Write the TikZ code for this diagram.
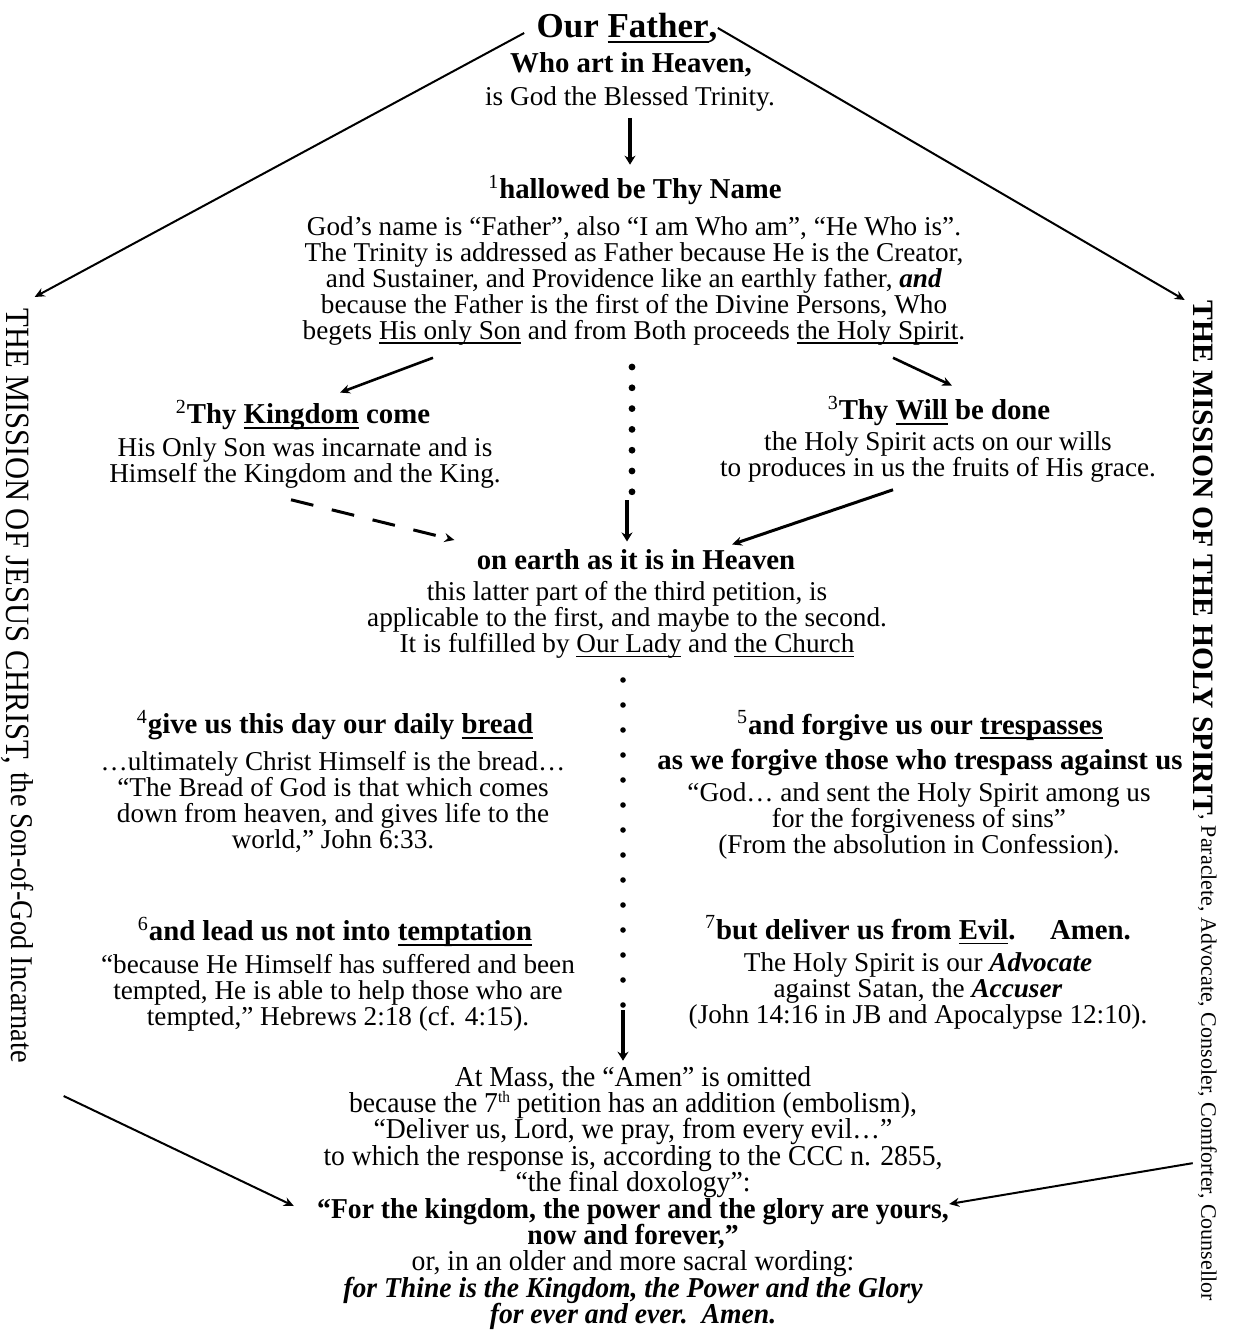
\documentclass[tikz,border=0pt]{standalone}
\usepackage{fontspec}
\setmainfont{Liberation Serif}
\newfontfamily\stretto[FakeStretch=0.9]{Liberation Serif}
\newfontfamily\strettino[FakeStretch=0.96]{Liberation Serif}
\usetikzlibrary{arrows.meta}

\setlength{\lineskiplimit}{-20pt}
\newcommand{\apice}[1]{\textsuperscript{\mdseries #1}}
\newcommand{\sottolinea}[1]{\setbox0\hbox{#1}\rlap{\rule[-0.17em]{\wd0}{0.06em}}\box0\relax}

\begin{document}
\begin{tikzpicture}[x=0.5pt, y=-0.5pt, >={Stealth[length=5pt,width=4.5pt]}]

    % Area del disegno (coordinate in pixel, asse y verso il basso)
    \useasboundingbox (0,0) rectangle (1233,1331);

    % Stili per titoli, petizioni e testi
    \tikzset{
        titolo/.style={font=\fontsize{17.5}{20}\selectfont\bfseries, inner sep=0pt},
        petizione/.style={font=\fontsize{14.4}{17.5}\selectfont\bfseries, inner sep=0pt, align=center},
        testo/.style={font=\fontsize{13.6}{13}\selectfont, inner sep=0pt, align=center},
        freccia/.style={->, line width=1pt},
        frecciona/.style={-{Stealth[length=4.5pt,width=5.5pt]}, line width=2pt},
        laterale/.style={rotate=-90, anchor=west, inner sep=0pt}
    }

    % Intestazione
    \node[titolo] (padre) at (627,28) {Our \sottolinea{Father},};
    \node[petizione] (cielo) at (631,65) {Who art in Heaven,};
    \node[testo] (trinita) at (630,99) {is God the Blessed Trinity.};

    % Prima petizione
    \node[petizione] (nome) at (635,190) {\apice{1}hallowed be Thy Name};
    \node[testo] (nometesto) at (634,281) {God’s name is “Father”, also “I am Who am”, “He Who is”.\\
        The Trinity is addressed as Father because He is the Creator,\\
        and Sustainer, and Providence like an earthly father, \textbf{\textit{and}}\\
        because the Father is the first of the Divine Persons, Who\\
        begets \sottolinea{His only Son} and from Both proceeds \sottolinea{the Holy Spirit}.};

    % Seconda e terza petizione
    \node[petizione] (regno) at (303,415) {\apice{2}Thy \sottolinea{Kingdom} come};
    \node[testo] (regnotesto) at (305,463) {His Only Son was incarnate and is\\
        Himself the Kingdom and the King.};
    \node[petizione] (volonta) at (939,411) {\apice{3}Thy \sottolinea{Will} be done};
    \node[testo] (volontatesto) at (938,457) {the Holy Spirit acts on our wills\\
        to produces in us the fruits of His grace.};

    % Come in cielo cosi in terra
    \node[petizione] (terra) at (636,560) {on earth as it is in Heaven};
    \node[testo] (terratesto) at (627,620) {this latter part of the third petition, is\\
        applicable to the first, and maybe to the second.\\
        It is fulfilled by \sottolinea{Our Lady} and \sottolinea{the Church}};

    % Quarta e quinta petizione
    \node[petizione] (pane) at (335,725) {\apice{4}give us this day our daily \sottolinea{bread}};
    \node[testo] (panetesto) at (333,802) {…ultimately Christ Himself is the bread…\\
        “The Bread of God is that which comes\\
        down from heaven, and gives life to the\\
        world,” John 6:33.};
    \node[petizione] (debiti) at (920,743) {\apice{5}and forgive us our \sottolinea{trespasses}\\
        as we forgive those who trespass against us};
    \node[testo] (debititesto) at (919,821) {“God… and sent the Holy Spirit among us\\
        for the forgiveness of sins”\\
        (From the absolution in Confession).};

    % Sesta e settima petizione
    \node[petizione] (tentazione) at (335,932) {\apice{6}and lead us not into \sottolinea{temptation}};
    \node[testo] (tentazionetesto) at (338,993) {“because He Himself has suffered and been\\
        tempted, He is able to help those who are\\
        tempted,” Hebrews 2:18 (cf. 4:15).};
    \node[petizione] (male) at (918,930) {\apice{7}but deliver us from \sottolinea{Evil}.\hspace{1.2em}Amen.};
    \node[testo] (maletesto) at (918,991) {The Holy Spirit is our \textbf{\textit{Advocate}}\\
        against Satan, the \textbf{\textit{Accuser}}\\
        (John 14:16 in JB and Apocalypse 12:10).};

    % Conclusione alla Messa
    \node[testo, font=\strettino\fontsize{14.4}{13.2}\selectfont] (messa) at (633,1198) {At Mass, the “Amen” is omitted\\
        because the 7\raisebox{0.75ex}{\fontsize{8}{8}\selectfont th} petition has an addition (embolism),\\
        “Deliver us, Lord, we pray, from every evil…”\\
        to which the response is, according to the CCC n. 2855,\\
        “the final doxology”:\\
        \textbf{“For the kingdom, the power and the glory are yours,}\\
        \textbf{now and forever,”}\\
        or, in an older and more sacral wording:\\
        \textbf{\textit{for Thine is the Kingdom, the Power and the Glory}}\\
        \textbf{\textit{for ever and ever.\ \ Amen.}}};

    % Le due missioni, scritte in verticale
    \node[laterale] (gesu) at (18,308) {\stretto\fontsize{17}{20}\selectfont THE MISSION OF JESUS CHRIST,
        \raisebox{2.5pt}{\fontsize{15.8}{18}\selectfont the Son-of-God Incarnate}};
    \node[laterale] (spirito) at (1205,300) {{\fontsize{14.8}{17}\selectfont\bfseries THE MISSION OF THE HOLY SPIRIT}%
        \raisebox{4pt}{\fontsize{11}{13}\selectfont, Paraclete, Advocate, Consoler, Comforter, Counsellor}};

    % Frecce verso le missioni e verso la conclusione
    \draw[freccia] ([xshift=-6pt,yshift=-2.5pt]padre.west) -- ([yshift=5.5pt]gesu.north west);
    \draw[freccia] (padre.east) -- ([xshift=-4pt]spirito.south west);
    \draw[freccia] ([xshift=14.5pt,yshift=-16.5pt]gesu.north east) -- ([xshift=-11.5pt,yshift=-4pt]messa.west);
    \draw[freccia] ([yshift=69pt]spirito.south east) -- ([yshift=-3pt]messa.east);

    % Frecce dalla prima petizione
    \draw[freccia, line width=1.3pt] ([xshift=-100.5pt,yshift=-6pt]nometesto.south) -- ([xshift=18.5pt,yshift=3.5pt]regno.north);
    \draw[freccia, line width=1.3pt] ([xshift=129.5pt,yshift=-6pt]nometesto.south) -- ([xshift=6.5pt,yshift=5pt]volonta.north);
    \draw[freccia, line width=1.5pt, dash pattern=on 11.5pt off 9.5pt] ([xshift=-7pt,yshift=-5.5pt]regnotesto.south) -- ([xshift=-11pt,yshift=10pt]terra.west);
    \draw[freccia, line width=1.5pt] ([xshift=-22.5pt,yshift=-3.5pt]volontatesto.south) -- ([xshift=48pt,yshift=2.5pt]terra.north);

    % Puntini e frecce verticali al centro
    \foreach \k in {0,...,6}
        \fill (632,{367+20.8*\k}) circle (1.7pt);
    \foreach \k in {0,...,13}
        \fill (623,{680+25*\k}) circle (1.4pt);

    \coordinate (puntiA) at (627,500);
    \coordinate (puntiB) at (623,1010);
    \draw[frecciona, shorten <=3pt, shorten >=5pt] (trinita.south) -- (trinita.south |- nome.north);
    \draw[frecciona, shorten >=4pt] (puntiA) -- (puntiA |- terra.north);
    \draw[frecciona, shorten >=2.5pt] (puntiB) -- (puntiB |- messa.north);

\end{tikzpicture}
\end{document}
